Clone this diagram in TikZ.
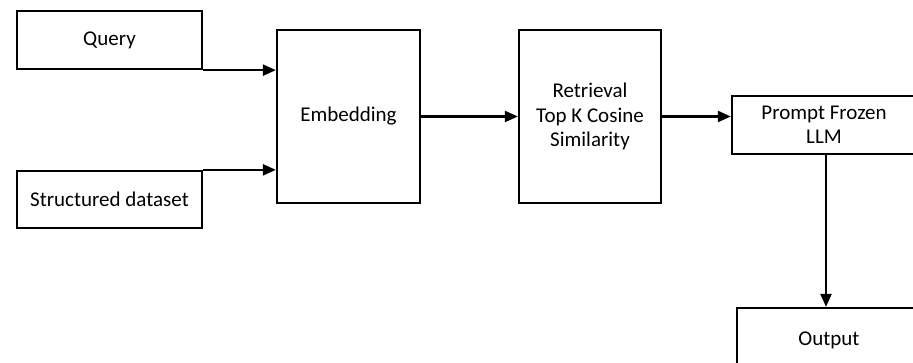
\documentclass[tikz,border=0pt]{standalone}
\usepackage{fontspec}
\setmainfont{Carlito}
\usetikzlibrary{arrows.meta}
\begin{document}
\begin{tikzpicture}[x=1pt,y=-1pt,
  box/.style={draw=black,line width=2.3pt,fill=white,inner sep=0pt,align=center,font=\fontsize{21}{24.5}\selectfont},
  arr/.style={line width=2.3pt,-{Triangle[length=13pt,width=11pt]}}]
\useasboundingbox (0,0) rectangle (913,363);
\clip (0,0) rectangle (913,363);
\node[box,minimum width=185pt,minimum height=58pt] (query) at (109.5,40) {Query};
\node[box,minimum width=185pt,minimum height=57pt] (data) at (109.5,199.5) {Structured dataset};
\node[box,minimum width=143pt,minimum height=173pt] (emb) at (348.5,116.5) {Embedding};
\node[box,minimum width=142pt,minimum height=173pt] (ret) at (590,116.5) {Retrieval\\Top K Cosine\\Similarity};
\node[box,minimum width=184pt,minimum height=58pt] (llm) at (824,125) {Prompt Frozen\\LLM};
\node[box,minimum width=184pt,minimum height=64pt] (out) at (829,340) {Output};
\draw[arr] (query.south east) -- (query.south east -| emb.west);
\draw[arr] (data.north east) -- (data.north east -| emb.west);
\draw[arr] (emb.east) -- (ret.west);
\draw[arr] (ret.east) -- (ret.east -| llm.west);
\draw[arr] (llm.south) ++(2,0) coordinate (s) -- (s |- out.north);
\end{tikzpicture}
\end{document}
